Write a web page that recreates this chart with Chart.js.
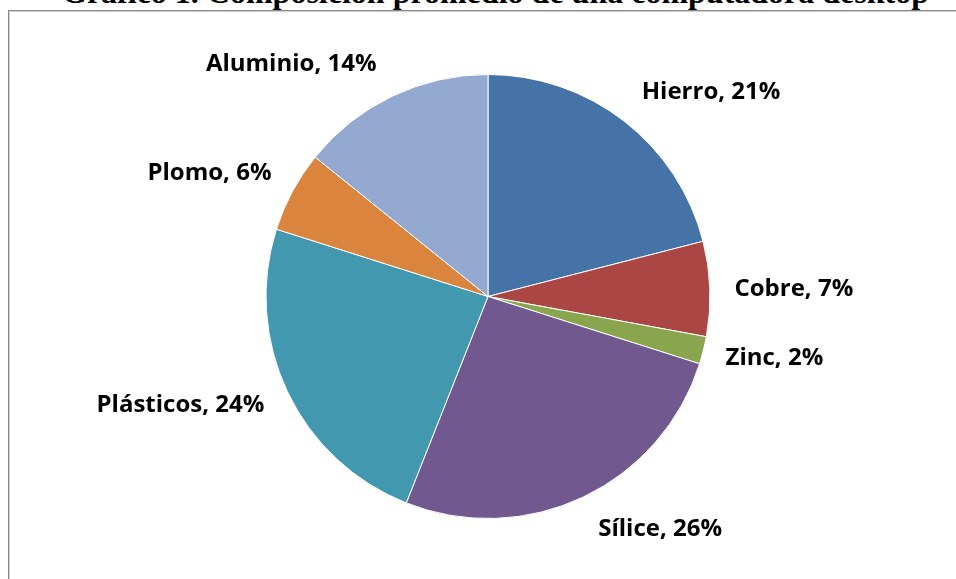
<!DOCTYPE html>
<html>
<head>
<meta charset="utf-8">
<title>Composición promedio de una computadora desktop</title>
<script src="https://cdn.jsdelivr.net/npm/chart.js@4"></script>
<style>
  html, body { margin: 0; padding: 0; background: #fff; overflow: hidden; }
  body { width: 956px; height: 579px; position: relative; }
  #titulo {
    position: absolute; left: 62px; top: -24px;
    font: bold 32px "Liberation Serif", "Times New Roman", serif;
    line-height: 32px; white-space: nowrap; color: #000;
  }
  #marco {
    position: absolute; left: 8px; top: 10px; width: 2000px; height: 2000px;
    border-left: 1px solid #8a8a8a; border-top: 1px solid #8a8a8a;
    box-shadow: inset 1px 1px 0 #d0d0d0;
  }
  #wrap { position: absolute; left: 0; top: 0; width: 956px; height: 579px; }
</style>
</head>
<body>
<div id="titulo">Gráfico 1. Composición promedio de una computadora desktop</div>
<div id="marco"></div>
<div id="wrap"><canvas id="myChart" width="956" height="579"></canvas></div>
<script>
// data (slice shares, labels show them rounded)
const materiales = ['Hierro', 'Cobre', 'Zinc', 'Sílice', 'Plásticos', 'Plomo', 'Aluminio'];
const porcentajes = [21.0, 6.9, 2.0, 26.1, 23.9, 5.9, 14.2];
const colores = ['#4572A7', '#AA4643', '#89A54E', '#71588F', '#4198AF', '#DB843D', '#93A9CF'];

// label nudges (px) from the slice's outer edge to the label centre
const labelNudge = [[87, -29], [84, 0], [71, 8], [77, 32], [-107, 14], [-83, -18], [-101, -32]];

// draws "Name, xx%" labels outside each slice
const outsideLabels = {
    id: 'outsideLabels',
    afterDatasetsDraw(chart) {
        const ctx = chart.ctx;
        const meta = chart.getDatasetMeta(0);
        const vals = chart.data.datasets[0].data;
        const total = vals.reduce((a, b) => a + b, 0);
        ctx.save();
        ctx.font = 'bold 24px "Open Sans"';
        ctx.fillStyle = '#000';
        ctx.textAlign = 'center';
        ctx.textBaseline = 'middle';
        meta.data.forEach(function(arc, i){
            const p = arc.getProps(['x', 'y', 'startAngle', 'endAngle', 'outerRadius'], true);
            const mid = (p.startAngle + p.endAngle) / 2;
            const ax = p.x + Math.cos(mid) * p.outerRadius;
            const ay = p.y + Math.sin(mid) * p.outerRadius;
            const txt = chart.data.labels[i] + ', ' + Math.round(vals[i] / total * 100) + '%';
            ctx.fillText(txt, ax + labelNudge[i][0], ay + labelNudge[i][1]);
        });
        ctx.restore();
    }
};

const ctx = document.getElementById('myChart').getContext('2d');
const myChart = new Chart(ctx, {
    type: 'pie',
    data: {
        labels: materiales,
        datasets: [{
            data: porcentajes,
            backgroundColor: colores,
            borderColor: '#ffffff',
            borderWidth: 1,
            hoverOffset: 0,
            radius: 222
        }]
    },
    options: {
        responsive: false,
        animation: false,
        events: [],
        layout: { padding: { left: 20, right: 0, top: 20, bottom: 6 } },
        plugins: {
            legend: { display: false },
            title: { display: false },
            tooltip: { enabled: false }
        }
    },
    plugins: [outsideLabels]
});
</script>
</body>
</html>
